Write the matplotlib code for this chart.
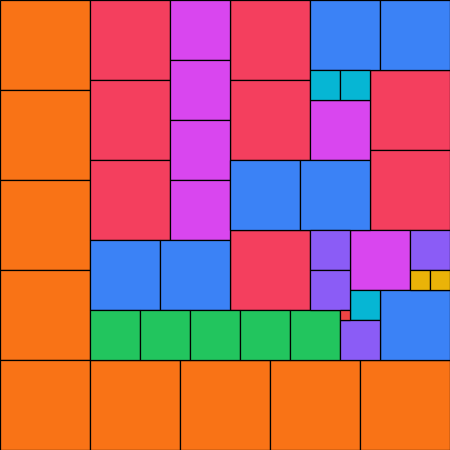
import matplotlib
matplotlib.use("Agg")
import matplotlib.pyplot as plt
from matplotlib.patches import Rectangle

# square side (grid units) and top-left cell of each square
sizes = [9] * 9 + [8] * 8 + [6] * 6 + [7] * 7 + [3] * 3 + [5] * 5 + [4] * 4 + [2] * 2 + [1]
xs = [0, 0, 0, 0, 0, 9, 18, 27, 36,
      9, 9, 9, 23, 23, 37, 37, 23,
      17, 17, 17, 17, 31, 35,
      31, 38, 23, 30, 9, 16, 38,
      31, 34, 35,
      9, 14, 19, 24, 29,
      31, 31, 41, 34,
      41, 43,
      34]
ys = [0, 9, 18, 27, 36, 36, 36, 36, 36,
      0, 8, 16, 0, 8, 7, 15, 23,
      0, 6, 12, 18, 10, 23,
      0, 0, 16, 16, 24, 24, 29,
      7, 7, 29,
      31, 31, 31, 31, 31,
      23, 27, 23, 32,
      27, 27,
      31]
colors = {1: "#ef4444", 2: "#eab308", 3: "#06b6d4", 4: "#8b5cf6", 5: "#22c55e",
          6: "#d946ef", 7: "#3b82f6", 8: "#f43f5e", 9: "#f97316"}

fig = plt.figure(figsize=(4.5, 4.5), dpi=100)
ax = fig.add_axes([0, 0, 1, 1])
for s, x, y in zip(sizes, xs, ys):
    ax.add_patch(Rectangle((x, y), s, s, facecolor=colors[s],
                           edgecolor="black", linewidth=0.9))
ax.set_xlim(0, 45)
ax.set_ylim(45, 0)
ax.axis("off")
fig.savefig("out.png", dpi=100)
